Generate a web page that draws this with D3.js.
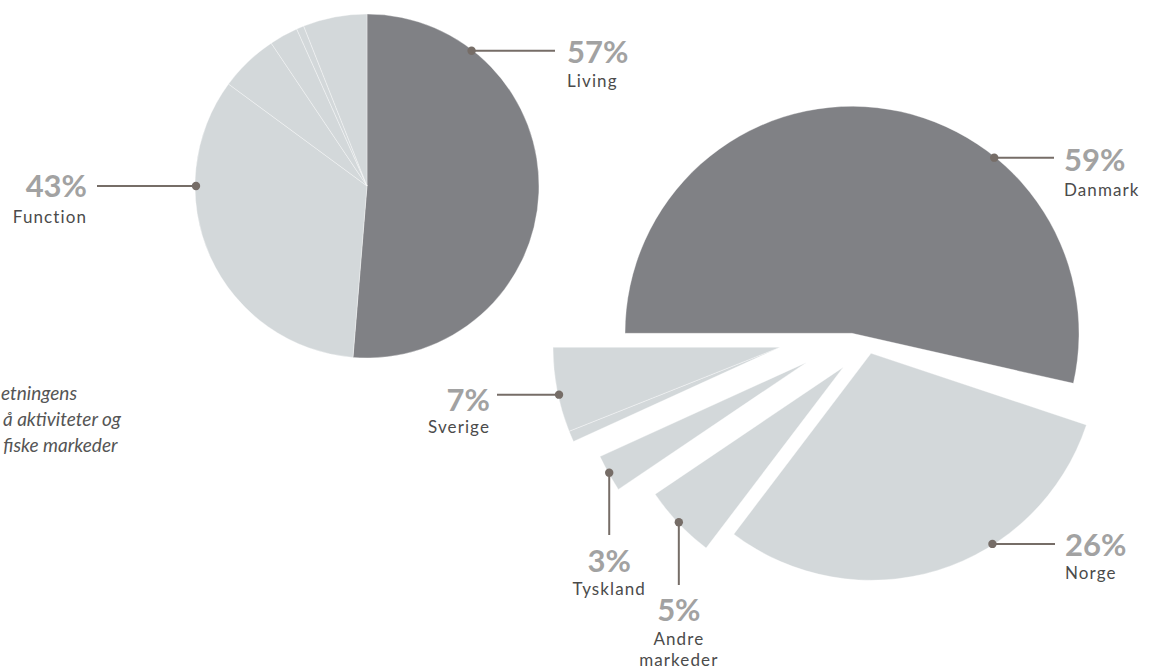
<!DOCTYPE html>
<html>
<head>
<meta charset="utf-8">
<script src="https://cdn.jsdelivr.net/npm/d3@7"></script>
<style>
html,body{margin:0;padding:0;background:#fff;}
svg{display:block;}
</style>
</head>
<body>
<svg id="chart" width="1153" height="670"></svg>
<script>
// ---------------- DATA ----------------
// Left pie: share of the circle (in %) as drawn in the picture
const leftCategories = ["Living", "Function", "Function 2", "Function 3", "Function 4", "Function 5"];
const leftValues = [51.3, 33.8, 5.5, 2.7, 0.7, 6.0];
const leftLabelNames = ["Living", "Function"];
const leftLabelValues = ["57%", "43%"];

// Right (exploded) pie: share of the circle (in %) as drawn
const rightCategories = ["Danmark", "(mellemrum)", "Norge", "Andre markeder", "Tyskland", "(øvrige)", "Sverige"];
const rightValues = [53.54, 1.57, 30.22, 5.22, 2.64, 0.78, 6.03];
const rightLabelNames = ["Danmark", "Norge", "Andre\nmarkeder", "Tyskland", "Sverige"];
const rightLabelValues = ["59%", "26%", "5%", "3%", "7%"];

const noteLines = ["etningens", "å aktiviteter og", "fiske markeder"];

// ---------------- LAYOUT / STYLE ----------------
const W = 1153, H = 670;
const DARK = "#808185", LIGHT = "#d3d8da";
const PCT = "#a2a2a2", NAME = "#4b4b4b", LEAD = "#766d67";
const FONT = "Lato, 'Open Sans', 'DejaVu Sans', sans-serif";

const leftPie = {cx: 367, cy: 186, r: 172};
const rightPie = {cx: 852, cy: 333.3, r: 227};
// translation of each exploded slice relative to the right pie centre
const rightShift = [[0, 0], [19, 20], [19, 20], [-8.7, 33.9], [-45.5, 29.1], [-72, 14], [-72, 14]];
const rightFill = [DARK, "none", LIGHT, LIGHT, LIGHT, LIGHT, LIGHT];
const leftFill = [DARK, LIGHT, LIGHT, LIGHT, LIGHT, LIGHT];

// label layout: slice index, dot angle (deg), leader direction, leader end, text x, anchor, baselines
const leftLabelLayout = [
  {slice: 0, ang: 37.7, dir: "h", end: 555, tx: 567, anchor: "start", pctY: 12.6, nameY: 36},
  {slice: 1, ang: 270, dir: "h", end: 97, tx: 87, anchor: "end", pctY: 11, nameY: 37}
];
const rightLabelLayout = [
  {slice: 0, ang: 39, dir: "h", end: 1054, tx: 1064, anchor: "start", pctY: 13, nameY: 38},
  {slice: 2, ang: 147.5, dir: "h", end: 1055, tx: 1065, anchor: "start", pctY: 11.7, nameY: 35},
  {slice: 3, ang: 226.7, dir: "v", end: 585, tx: 0, anchor: "middle", pctY: 35.7, nameY: 60},
  {slice: 4, ang: 240.8, dir: "v", end: 535, tx: 0, anchor: "middle", pctY: 36.7, nameY: 60},
  {slice: 6, ang: 257.9, dir: "h", end: 497, tx: 490, anchor: "end", pctY: 16.4, nameY: 38.7}
];

const svg = d3.select("#chart");
svg.append("rect").attr("width", W).attr("height", H).attr("fill", "#fff");

// ---------------- LEFT PIE ----------------
const pieL = d3.pie().sort(null).value(d => d)(leftValues);
const arcL = d3.arc().innerRadius(0).outerRadius(leftPie.r);
const gL = svg.append("g").attr("transform", `translate(${leftPie.cx},${leftPie.cy})`);
gL.selectAll("path").data(pieL).join("path")
  .attr("d", arcL)
  .attr("fill", (d, i) => leftFill[i])
  .attr("stroke", "#ffffff")
  .attr("stroke-width", 0.7)
  .attr("stroke-opacity", 0.5);

// ---------------- RIGHT PIE ----------------
const pieR = d3.pie().sort(null).value(d => d)
  .startAngle(-Math.PI / 2).endAngle(3 * Math.PI / 2)(rightValues);
const arcR = d3.arc().innerRadius(0).outerRadius(rightPie.r);
const gR = svg.append("g").attr("transform", `translate(${rightPie.cx},${rightPie.cy})`);
gR.selectAll("path").data(pieR).join("path")
  .attr("transform", (d, i) => `translate(${rightShift[i][0]},${rightShift[i][1]})`)
  .attr("d", arcR)
  .attr("fill", (d, i) => rightFill[i])
  .attr("stroke", (d, i) => rightFill[i] === "none" ? "none" : "#ffffff")
  .attr("stroke-width", 0.7)
  .attr("stroke-opacity", 0.5);

// ---------------- LABELS ----------------
function drawLabel(cx, cy, r, lay, pctText, nameText) {
  const a = lay.ang * Math.PI / 180;
  const [px, py] = d3.pointRadial(a, r - 1);
  const dx = cx + px, dy = cy + py;
  const g = svg.append("g");
  let x2, y2, tx, ty;
  if (lay.dir === "h") { x2 = lay.end; y2 = dy; tx = lay.tx; ty = dy; }
  else { x2 = dx; y2 = lay.end; tx = dx; ty = lay.end; }
  g.append("line").attr("x1", dx).attr("y1", dy).attr("x2", x2).attr("y2", y2)
    .attr("stroke", LEAD).attr("stroke-width", 2);
  g.append("circle").attr("cx", dx).attr("cy", dy).attr("r", 4.2).attr("fill", LEAD);
  g.append("text").attr("x", tx).attr("y", ty + lay.pctY)
    .attr("text-anchor", lay.anchor)
    .attr("font-family", FONT).attr("font-weight", 700).attr("font-size", 31)
    .attr("fill", PCT).text(pctText);
  const names = nameText.split("\n");
  names.forEach((n, k) => {
    g.append("text").attr("x", tx).attr("y", ty + lay.nameY + k * 21)
      .attr("text-anchor", lay.anchor)
      .attr("font-family", FONT).attr("font-weight", 400).attr("font-size", 17)
      .attr("letter-spacing", 1.1)
      .attr("fill", NAME).text(n);
  });
}

leftLabelLayout.forEach((lay, i) => {
  drawLabel(leftPie.cx, leftPie.cy, leftPie.r, lay, leftLabelValues[i], leftLabelNames[i]);
});
rightLabelLayout.forEach((lay, i) => {
  const s = rightShift[lay.slice];
  drawLabel(rightPie.cx + s[0], rightPie.cy + s[1], rightPie.r, lay, rightLabelValues[i], rightLabelNames[i]);
});

// ---------------- NOTE (cropped italic text) ----------------
const noteRight = [77, 121, 117.5];
noteLines.forEach((t, i) => {
  svg.append("text")
    .attr("x", noteRight[i]).attr("y", 400 + i * 26)
    .attr("text-anchor", "end")
    .attr("font-family", FONT).attr("font-style", "italic").attr("font-weight", 400)
    .attr("font-size", 19).attr("fill", "#555555")
    .text(t);
});
</script>
</body>
</html>
